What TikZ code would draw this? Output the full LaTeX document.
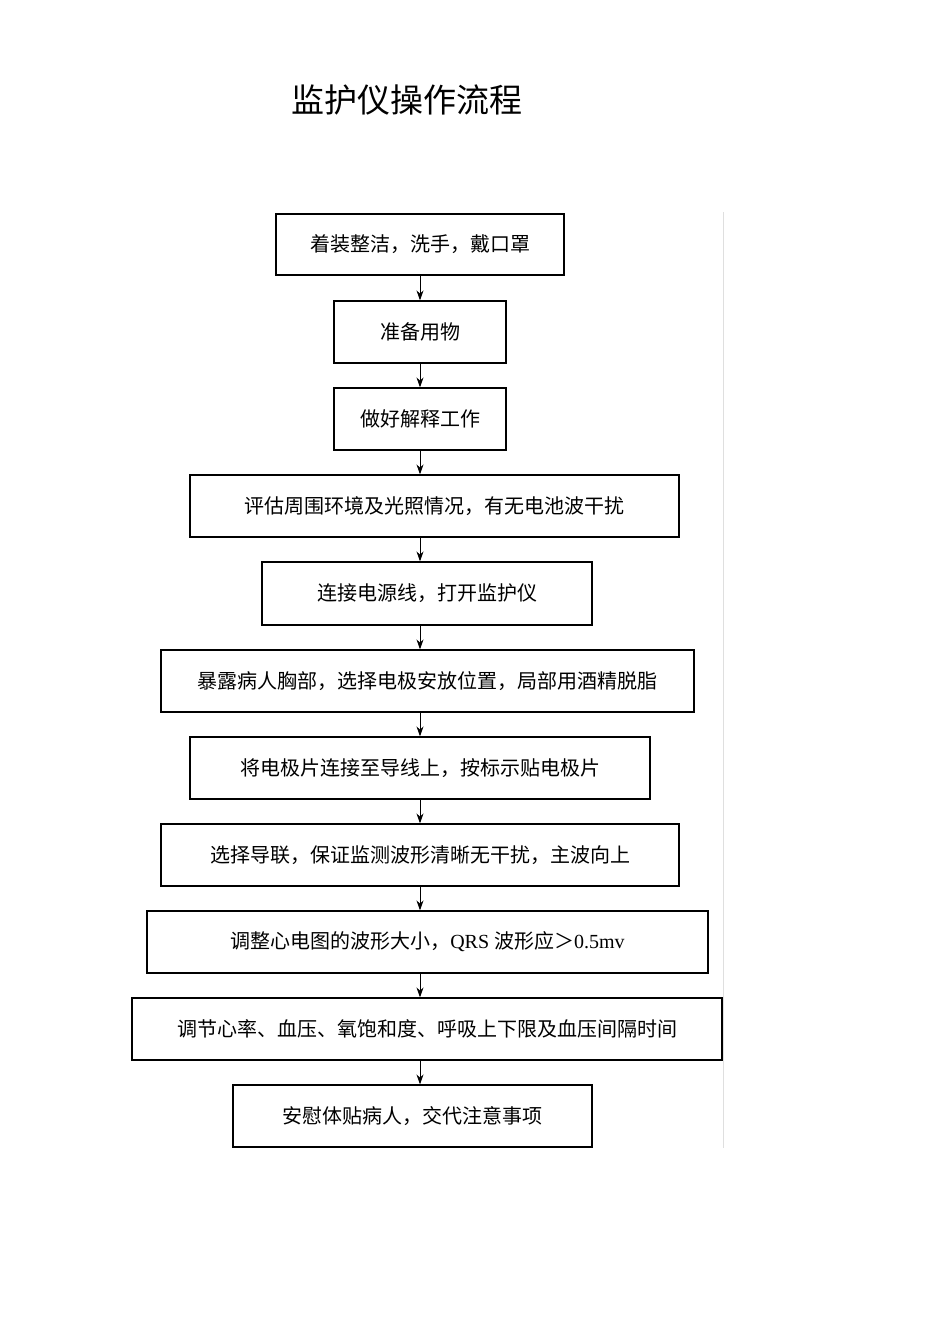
\documentclass[tikz,border=0pt]{standalone}
\usepackage{fontspec}
\setmainfont{Liberation Serif}
\newfontfamily\cjk{Noto Sans CJK SC}
\usetikzlibrary{arrows.meta}
\begin{document}
\begin{tikzpicture}[x=1pt,y=-1pt,
  bx/.style={draw,line width=1.2pt,inner sep=0pt,font=\cjk\fontsize{20}{24}\selectfont},
  arr/.style={-{Stealth[length=10pt,width=7pt]},line width=1pt}]
\useasboundingbox (0,0) rectangle (950,1344);
\fill[white] (0,0) rectangle (950,1344);
\node[font=\cjk\fontsize{33}{38}\selectfont] (t) at (407,100) {监护仪操作流程};
\draw[gray!25,line width=0.6pt] (723,212) -- (723,1148);
\coordinate (c) at (420,0);
\def\B#1#2#3#4#5{\node[bx,minimum width={#2-#1},minimum height={#4-#3}] (#5) at ({(#1+#2)/2},{(#3+#4)/2})}
\B{276}{564}{214}{275}{b1} {着装整洁，洗手，戴口罩};
\B{334}{506}{301}{363}{b2} {准备用物};
\B{334}{506}{388}{450}{b3} {做好解释工作};
\B{190}{679}{475}{537}{b4} {评估周围环境及光照情况，有无电池波干扰};
\B{262}{592}{562}{625}{b5} {连接电源线，打开监护仪};
\B{161}{694}{650}{712}{b6} {暴露病人胸部，选择电极安放位置，局部用酒精脱脂};
\B{190}{650}{737}{799}{b7} {将电极片连接至导线上，按标示贴电极片};
\B{161}{679}{824}{886}{b8} {选择导联，保证监测波形清晰无干扰，主波向上};
\B{147}{708}{911}{973}{b9} {调整心电图的波形大小，\rmfamily QRS \cjk 波形应＞\rmfamily 0.5mv};
\B{132}{722}{998}{1060}{b10} {调节心率、血压、氧饱和度、呼吸上下限及血压间隔时间};
\B{233}{592}{1085}{1147}{b11} {安慰体贴病人，交代注意事项};
\foreach \a/\b in {b1/b2,b2/b3,b3/b4,b4/b5,b5/b6,b6/b7,b7/b8,b8/b9,b9/b10,b10/b11}
  \draw[arr] (\a.south -| c) -- (\b.north -| c);
\end{tikzpicture}
\end{document}
